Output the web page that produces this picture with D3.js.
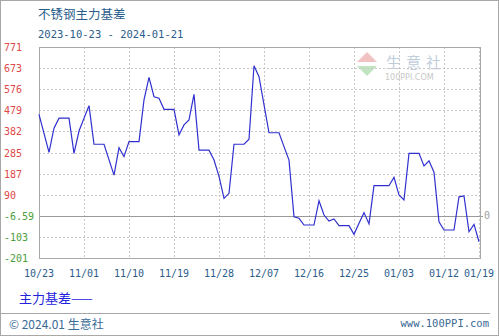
<!DOCTYPE html>
<html>
<head>
<meta charset="utf-8">
<script src="https://cdn.jsdelivr.net/npm/d3@7"></script>
<style>
  body { margin: 0; background: #fff; }
  svg { display: block; }
</style>
</head>
<body>
<svg id="chart" width="499" height="336"></svg>
<script>
// data
var dates = ["2023-10-23","2023-10-25","2023-10-26","2023-10-27","2023-10-29","2023-10-30","2023-10-31",
    "2023-11-02","2023-11-03","2023-11-05","2023-11-07","2023-11-08","2023-11-09","2023-11-10","2023-11-12",
    "2023-11-13","2023-11-14","2023-11-15","2023-11-16","2023-11-17","2023-11-19","2023-11-20","2023-11-21",
    "2023-11-22","2023-11-23","2023-11-24","2023-11-26","2023-11-27","2023-11-28","2023-11-29","2023-11-30",
    "2023-12-01","2023-12-03","2023-12-04","2023-12-05","2023-12-06","2023-12-08","2023-12-10","2023-12-11",
    "2023-12-12","2023-12-13","2023-12-14","2023-12-15","2023-12-17","2023-12-18","2023-12-19","2023-12-20",
    "2023-12-21","2023-12-22","2023-12-24","2023-12-25","2023-12-26","2023-12-27","2023-12-28","2023-12-29",
    "2024-01-01","2024-01-02","2024-01-03","2024-01-04","2024-01-05","2024-01-07","2024-01-08","2024-01-09",
    "2024-01-10","2024-01-11","2024-01-12","2024-01-14","2024-01-15","2024-01-16","2024-01-17","2024-01-18",
    "2024-01-19"];
var basis = [461,286,397,443,443,281,384,
    501,323,323,181,307,266,335,335,
    527,631,542,535,484,484,366,412,
    435,553,296,296,250,175,74,97,
    323,323,346,685,634,376,376,312,
    250,-11,-18,-49,-49,63,-3,-31,
    -21,-52,-52,-92,-41,8,-44,132,
    132,171,89,66,281,281,223,247,
    194,-34,-72,-72,81,85,-80,-46,
    -126];

var yTicks = [771, 673.8, 576.6, 479.4, 382.2, 285, 187.8, 90.6, -6.59, -103.8, -201];
var yLabels = ["771","673","576","479","382","285","187","90","-6.59","-103","-201"];
var xTicks = ["2023-10-23","2023-11-01","2023-11-10","2023-11-19","2023-11-28","2023-12-07",
    "2023-12-16","2023-12-25","2024-01-03","2024-01-12","2024-01-19"];

var parse = d3.timeParse("%Y-%m-%d");
var mono = "'DejaVu Sans Mono', monospace";
var cjk = "'Noto Sans CJK SC', sans-serif";

var svg = d3.select("#chart");
var plotL = 39, plotR = 480, plotT = 47, plotB = 258;

var x = d3.scaleTime()
    .domain([parse("2023-10-23"), parse("2024-01-19")])
    .range([plotL, plotR - 1]);
var y = d3.scaleLinear()
    .domain([-201, 771])
    .range([plotB, plotT]);

// outer frame and footer separator
svg.append("rect")
    .attr("x", 0.5).attr("y", 0.5)
    .attr("width", 498).attr("height", 335)
    .style("fill", "none").style("stroke", "#a8a8a8");
svg.append("line")
    .attr("x1", 0).attr("x2", 490)
    .attr("y1", 313.5).attr("y2", 313.5)
    .style("stroke", "#a8a8a8");

// titles
svg.append("text")
    .attr("x", 38).attr("y", 19)
    .style("font-family", cjk).style("font-size", "12.5px")
    .style("fill", "#2b5d8c")
    .text("不锈钢主力基差");
svg.append("text")
    .attr("x", 38).attr("y", 38)
    .style("font-family", mono).style("font-size", "10.5px")
    .style("fill", "#2b5d8c")
    .text("2023-10-23 - 2024-01-21");

// watermark
var wm = svg.append("g").attr("opacity", 0.55);
wm.append("path")
    .attr("d", "M357,62 L367,52 L377,62 Z")
    .style("fill", "#e89090");
wm.append("path")
    .attr("d", "M357,66 L377,66 L367,76 Z")
    .style("fill", "#90d090");
wm.append("text")
    .attr("x", 386).attr("y", 68)
    .style("font-family", cjk).style("font-size", "15px")
    .style("letter-spacing", "5px")
    .style("fill", "#8ea6bf")
    .text("生意社");
wm.append("text")
    .attr("x", 385).attr("y", 80)
    .style("font-family", "'DejaVu Sans', sans-serif").style("font-size", "8px")
    .style("fill", "#9a9a9a")
    .text("100PPI.COM");

// grid
svg.append("g")
    .selectAll("line")
    .data(yTicks)
    .enter()
    .append("line")
    .attr("x1", plotL).attr("x2", plotR)
    .attr("y1", function(d) { return Math.round(y(d)) + 0.5; })
    .attr("y2", function(d) { return Math.round(y(d)) + 0.5; })
    .style("stroke", "#c8c8c8")
    .style("stroke-dasharray", "2,2");
svg.append("g")
    .selectAll("line")
    .data(xTicks)
    .enter()
    .append("line")
    .attr("x1", function(d) { return Math.round(x(parse(d))) + 0.5; })
    .attr("x2", function(d) { return Math.round(x(parse(d))) + 0.5; })
    .attr("y1", plotT).attr("y2", plotB)
    .style("stroke", "#c8c8c8")
    .style("stroke-dasharray", "2,2");

// zero line
svg.append("line")
    .attr("x1", plotL).attr("x2", plotR + 3)
    .attr("y1", Math.round(y(-6.59)) + 0.5).attr("y2", Math.round(y(-6.59)) + 0.5)
    .style("stroke", "#9a9a9a");
svg.append("text")
    .attr("x", 484).attr("y", y(-6.59) + 3)
    .style("font-family", mono).style("font-size", "10px")
    .style("fill", "#a0a0a0")
    .text("0");

// plot border
svg.append("rect")
    .attr("x", plotL + 0.5).attr("y", plotT + 0.5)
    .attr("width", plotR - plotL).attr("height", plotB - plotT)
    .style("fill", "none").style("stroke", "#a8a8a8");

// y labels
svg.append("g")
    .selectAll("text")
    .data(yTicks)
    .enter()
    .append("text")
    .attr("x", 4)
    .attr("y", function(d) { return y(d) + 4; })
    .style("font-family", mono).style("font-size", "10px")
    .style("fill", function(d) { return d < 0 ? "#4c9e3c" : "#e04848"; })
    .text(function(d, i) { return yLabels[i]; });

// x labels
svg.append("g")
    .selectAll("text")
    .data(xTicks)
    .enter()
    .append("text")
    .attr("x", function(d) { return x(parse(d)); })
    .attr("y", 277)
    .attr("text-anchor", "middle")
    .style("font-family", mono).style("font-size", "10px")
    .style("fill", "#2b5d8c")
    .text(function(d) { return d3.timeFormat("%m/%d")(parse(d)); });

// series line
var line = d3.line()
    .x(function(d) { return x(d.date); })
    .y(function(d) { return y(d.value); });
var series = dates.map(function(d, i) { return {date: parse(d), value: basis[i]}; });
svg.append("path")
    .datum(series)
    .attr("d", line)
    .style("fill", "none")
    .style("stroke", "#3030d0")
    .style("stroke-width", 1.2);

// legend
svg.append("text")
    .attr("x", 19).attr("y", 303)
    .style("font-family", cjk).style("font-size", "13px")
    .style("fill", "#2222dd")
    .text("主力基差——");

// footer
svg.append("text")
    .attr("x", 9).attr("y", 329)
    .style("font-family", cjk).style("font-size", "12px")
    .style("fill", "#3a6a96")
    .text("© 2024.01 生意社");
svg.append("text")
    .attr("x", 489).attr("y", 327)
    .attr("text-anchor", "end")
    .style("font-family", mono).style("font-size", "10.5px")
    .style("fill", "#3a6a96")
    .text("www.100PPI.com");
</script>
</body>
</html>
